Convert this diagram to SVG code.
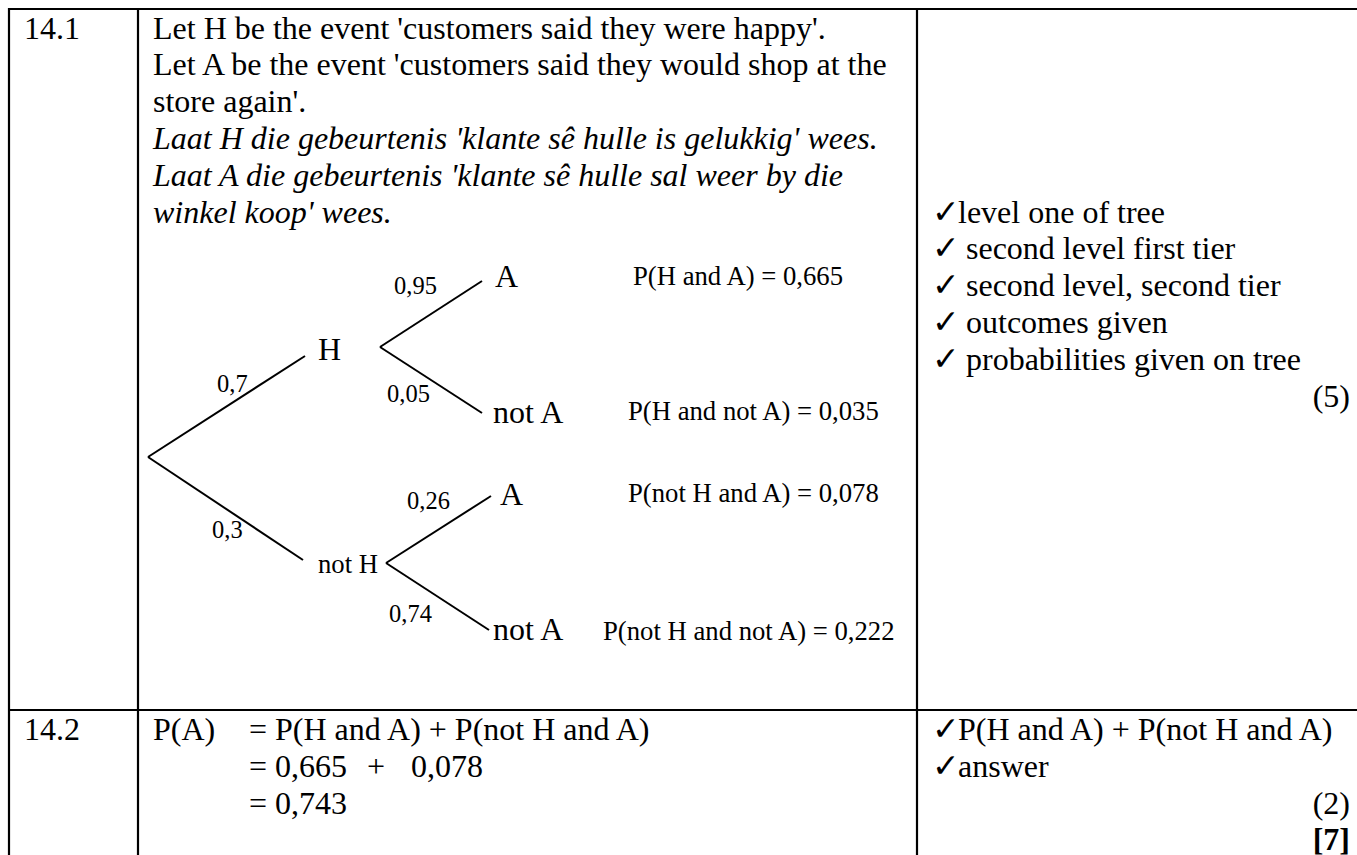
<svg xmlns="http://www.w3.org/2000/svg" width="1357" height="855" viewBox="0 0 1357 855">
<style>
text{font-family:"Liberation Serif","Times New Roman",serif;fill:#000}
.b{font-size:32px}
.i{font-style:italic}
.o{font-size:32px}
.p{font-size:24.5px}
.j{font-size:26.7px}
.ck{font-family:"DejaVu Sans",sans-serif;font-size:33px;font-weight:bold}
.grid line{stroke:#000;stroke-width:2.2}
.br line{stroke:#000;stroke-width:2}
</style>
<rect width="1357" height="855" fill="#fff"/>
<g class="grid" id="table">
<line x1="8" y1="9" x2="1357" y2="9"/>
<line x1="9" y1="8" x2="9" y2="855"/>
<line x1="138" y1="9" x2="138" y2="855"/>
<line x1="917" y1="9" x2="917" y2="855"/>
<line x1="9" y1="710" x2="1357" y2="710"/>
</g>
<g id="row1-number"><text class="b" x="24" y="38.5">14.1</text></g>
<g id="row1-text">
<text class="b" x="153" y="38.5">Let H be the event 'customers said they were happy'.</text>
<text class="b" x="153" y="75.3">Let A be the event 'customers said they would shop at the</text>
<text class="b" x="153" y="112.1">store again'.</text>
<text class="b i" x="153" y="148.9">Laat H die gebeurtenis 'klante sê hulle is gelukkig' wees.</text>
<text class="b i" x="153" y="185.7">Laat A die gebeurtenis 'klante sê hulle sal weer by die</text>
<text class="b i" x="153" y="222.5">winkel koop' wees.</text>
</g>
<g id="row1-marks">
<text class="b" x="932" y="222.5"><tspan class="ck">✓</tspan><tspan x="958">level one of tree</tspan></text>
<text class="b" x="932" y="259.3"><tspan class="ck">✓</tspan><tspan x="966">second level first tier</tspan></text>
<text class="b" x="932" y="296.1"><tspan class="ck">✓</tspan><tspan x="966">second level, second tier</tspan></text>
<text class="b" x="932" y="332.9"><tspan class="ck">✓</tspan><tspan x="966">outcomes given</tspan></text>
<text class="b" x="932" y="369.7"><tspan class="ck">✓</tspan><tspan x="966">probabilities given on tree</tspan></text>
<text class="b" x="1350" y="406.5" text-anchor="end">(5)</text>
</g>
<g id="connectors" class="br">
<line x1="148" y1="457" x2="305" y2="356"/>
<line x1="148" y1="457" x2="303" y2="560"/>
<line x1="380" y1="347" x2="482" y2="281"/>
<line x1="380" y1="347" x2="482" y2="413"/>
<line x1="386" y1="563" x2="491" y2="496"/>
<line x1="386" y1="563" x2="489" y2="630"/>
</g>
<g id="node-H"><text class="o" x="318" y="360">H</text></g>
<g id="node-notH"><text class="j" x="318" y="573">not H</text></g>
<g id="node-HA"><text class="o" x="495" y="287">A</text></g>
<g id="node-HnotA"><text class="o" x="493" y="423">not A</text></g>
<g id="node-notHA"><text class="o" x="500" y="505">A</text></g>
<g id="node-notHnotA"><text class="o" x="493" y="640">not A</text></g>
<g id="branch-probs">
<text class="p" x="217" y="392">0,7</text>
<text class="p" x="212" y="538">0,3</text>
<text class="p" x="394" y="294">0,95</text>
<text class="p" x="387" y="402">0,05</text>
<text class="p" x="407" y="509">0,26</text>
<text class="p" x="389" y="622">0,74</text>
</g>
<g id="joint-probs">
<text class="j" x="633" y="285">P(H and A) = 0,665</text>
<text class="j" x="628" y="420">P(H and not A) = 0,035</text>
<text class="j" x="628" y="502">P(not H and A) = 0,078</text>
<text class="j" x="603" y="640">P(not H and not A) = 0,222</text>
</g>
<g id="row2-number"><text class="b" x="24" y="740">14.2</text></g>
<g id="row2-text">
<text class="b" x="153" y="740">P(A)</text>
<text class="b" x="249" y="740">= P(H and A) + P(not H and A)</text>
<text class="b" x="249" y="776.8">= 0,665</text>
<text class="b" x="367" y="776.8">+</text>
<text class="b" x="411" y="776.8">0,078</text>
<text class="b" x="249" y="813.6">= 0,743</text>
</g>
<g id="row2-marks">
<text class="b" x="932" y="740"><tspan class="ck">✓</tspan><tspan x="958">P(H and A) + P(not H and A)</tspan></text>
<text class="b" x="932" y="776.8"><tspan class="ck">✓</tspan><tspan x="958">answer</tspan></text>
<text class="b" x="1350" y="813.6" text-anchor="end">(2)</text>
<text class="b" x="1350" y="850.4" text-anchor="end" font-weight="bold">[7]</text>
</g>
</svg>
